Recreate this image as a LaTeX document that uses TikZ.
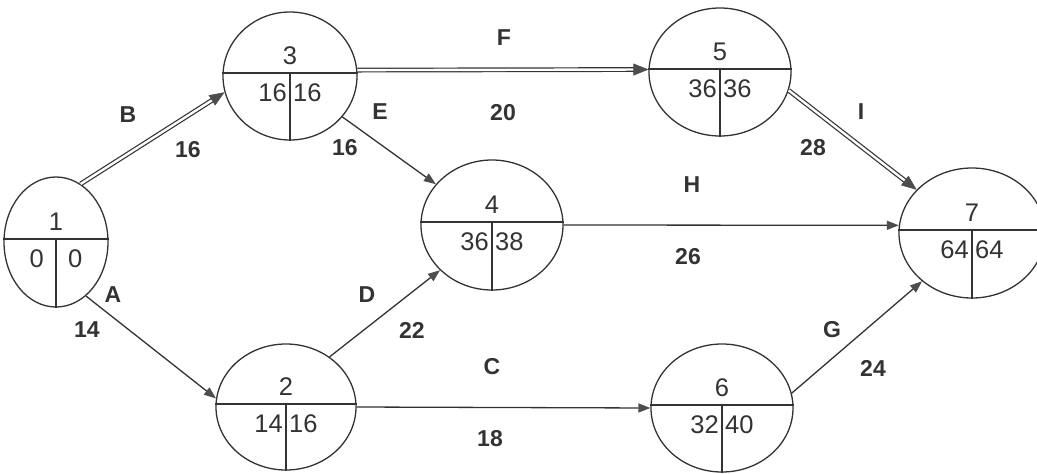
\documentclass[tikz,border=0pt]{standalone}
\usepackage{fontspec}
\setmainfont{Liberation Sans}
\usetikzlibrary{shapes.geometric,arrows.meta,calc}
\definecolor{ink}{HTML}{333333}
\definecolor{tipc}{HTML}{4D4D4D}
\newcommand\evnode[9]{%
  \node[ev, minimum width=2*#4pt, minimum height=2*#5pt] (#1) at (#2,#3) {};
  \draw[divline] ([yshift=3pt]#1.west) -- ([yshift=3pt]#1.east);
  \draw[divline] ([yshift=3pt]#1.center) -- (#1.south);
  \node[num] (#1-n) at ([yshift=20pt]#1.center) {#6};
  \node[num, anchor=east] (#1-l) at ([xshift=-#9pt,yshift=-17pt]#1.center) {#7};
  \node[num, anchor=west] (#1-r) at ([xshift=#9pt,yshift=-17pt]#1.center) {#8};
}
\newcommand\critarrow[2]{%
  \draw[critline] (#1) -- (#2);
  \draw[tipseg] ($(#2)!25pt!(#1)$) -- (#2);
}
\begin{document}
\begin{tikzpicture}[x=1pt,y=-1pt,
  ev/.style={ellipse, draw=ink, line width=1.3pt, inner sep=0pt},
  divline/.style={draw=ink, line width=1.3pt},
  num/.style={font=\fontsize{25.5}{27}\selectfont, text=ink, inner sep=0pt},
  lab/.style={font=\fontsize{23}{25}\selectfont\bfseries, text=ink, inner sep=0pt},
  act/.style={draw=ink, line width=1.3pt, -{Triangle[length=12pt,width=9pt,color=tipc]}},
  critline/.style={draw=ink, line width=1.2pt, double=white, double distance=2.4pt, shorten >=11pt},
  tipseg/.style={draw=white, line width=0.1pt, -{Triangle[length=15pt,width=12pt,color=tipc,line width=0.5pt]}}]
\clip (0,0) rectangle (1037,474);
\fill[white] (0,0) rectangle (1037,474);

\evnode{n1}{56}{242}{52}{65}{1}{0}{0}{12}
\evnode{n3}{290}{76}{67}{64}{3}{16}{16}{3}
\evnode{n5}{720}{72}{71}{64}{5}{36}{36}{3}
\evnode{n4}{492}{225}{71}{65}{4}{36}{38}{3}
\evnode{n2}{286}{407}{70}{63}{2}{14}{16}{3}
\evnode{n6}{722}{408}{71}{64}{6}{32}{40}{3}
\evnode{n7}{972}{233}{73}{65}{7}{64}{64}{3}

\critarrow{n1.67}{n3.194}
\draw[act] (n1.-61) -- (n2.173);
\draw[act] (n3.-38) -- (n4.144);
\draw[act] (n2.49) -- (n4.221);
\critarrow{n3.5}{n5.178}
\draw[act] (n4.0) -- (n7.174);
\draw[act] (n2.0) -- (n6.180);
\critarrow{n5.-15}{n7.142}
\draw[act] (n6.12) -- (n7.224);

\node[lab] (lB) at (128,115) {B};
\node[lab] (dB) at (188,150) {16};
\node[lab] (lA) at (113,295) {A};
\node[lab] (dA) at (87,330) {14};
\node[lab] (lE) at (380,112) {E};
\node[lab] (dE) at (345,148) {16};
\node[lab] (lF) at (504,38) {F};
\node[lab] (dF) at (503,113) {20};
\node[lab] (lI) at (861,112) {I};
\node[lab] (dI) at (813,148) {28};
\node[lab] (lH) at (692,185) {H};
\node[lab] (dH) at (688,257) {26};
\node[lab] (lD) at (367,295) {D};
\node[lab] (dD) at (412,330) {22};
\node[lab] (lC) at (492,367) {C};
\node[lab] (dC) at (490,439) {18};
\node[lab] (lG) at (832,330) {G};
\node[lab] (dG) at (873,368) {24};
\end{tikzpicture}
\end{document}
